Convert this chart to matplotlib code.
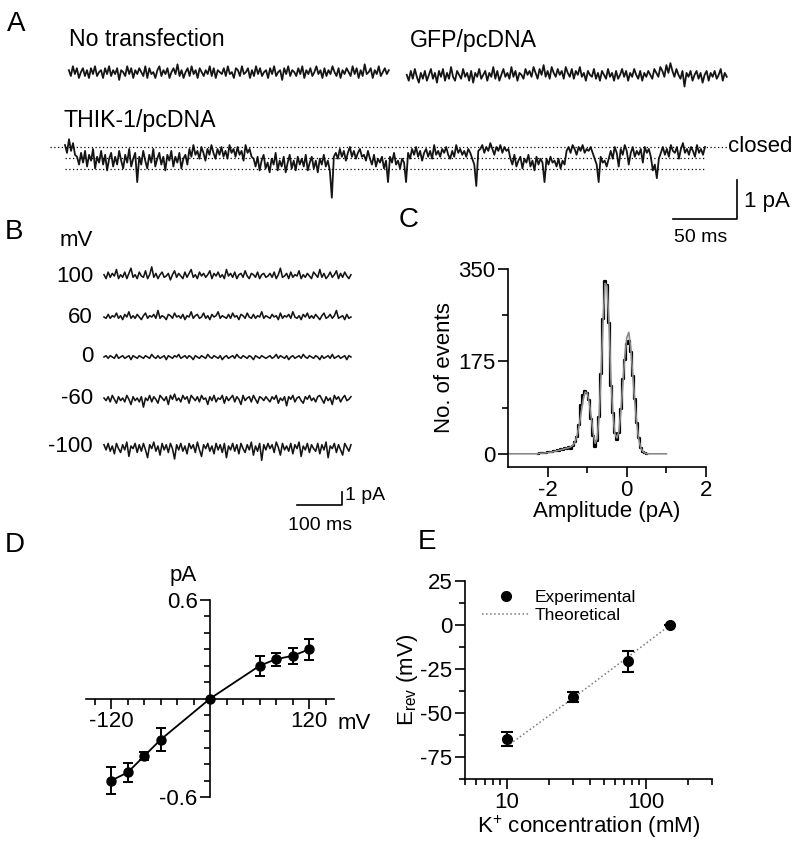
import numpy as np
import matplotlib
matplotlib.use("Agg")
import matplotlib.pyplot as plt
from matplotlib.ticker import FixedLocator, MultipleLocator, LogLocator, NullFormatter

plt.rcParams['font.family'] = ['Liberation Sans', 'DejaVu Sans']
plt.rcParams['axes.unicode_minus'] = False
plt.rcParams['mathtext.fontset'] = 'custom'
plt.rcParams['mathtext.rm'] = 'Liberation Sans'
plt.rcParams['mathtext.it'] = 'Liberation Sans:italic'

# ---------------- data ----------------
# A: single-channel recordings, values in units of 0.05 pA
a_unit = 0.05
no_transfection = [1, -2, 3, -1, 2, -3, 0, 2, -2, 1, -3, 2, -1, 3, -2, 0, 1, -3, 2, -1,
                   3, -2, 1, -1, 2, -4, 1, 0, -2, 3, -1, 2, -3, 1, -1, 2, 0, -2, 3, -3,
                   2, -1, 0, -3, 1, 3, -2, 1, -1, 2, -3, 0, 2, -1, 4, -2, 1, -3, 0, 2,
                   -2, 3, -1, 1, -3, 2, 0, -2, 1, -1, 3, -2, 2, -3, 1, 0, -1, 2, -2, 3,
                   -1, 0, -3, 2, 1, -2, 3, -1, 0, 2, -3, 1, -2, 3, -1, 2, -2, 0, 1, -3,
                   2, -1, 3, -2, 0, 1, -4, 2, -1, 3, -2, 1, 0, -2, 2, -1, 3, -3, 1, -1,
                   2, -2, 0, 3, -1, 1, -3, 2, -2, 1, -1, 3, 0, -2, 2, -3, 1, -1, 2, 0,
                   -2, 3, -1, 2, -3, 1, -2, 4, -1, 0, 2, -3, 1, -1, 3, -2, 0, 2, -1, 1]
gfp_pcdna = [0, -3, 2, -2, 3, -1, -4, 1, -2, 2, -3, 0, 3, -2, 1, -4, 2, -1, 3, -3,
             1, -2, 4, -1, -3, 2, 0, -2, 3, -1, 1, -3, 2, -4, 1, -1, 3, -2, 0, 2,
             -3, 1, -1, 4, -2, 2, -3, 0, 3, -1, 1, -2, 4, -1, 2, -3, 1, 0, -2, 3,
             0, 2, -1, 4, 1, -2, 3, 0, 5, -1, 2, -2, 4, 1, -1, 3, 0, 2, -2, 4,
             1, -1, 3, -2, 2, 0, 4, -1, 1, -3, 2, 0, -1, 3, -2, 1, -3, 2, 0, -2,
             3, -1, 1, -3, 2, -2, 0, 3, -1, 2, -3, 1, -1, 3, 0, -2, 2, -3, 1, -1,
             2, 0, -2, 3, 1, -1, 4, 2, -1, 5, 1, 6, 2, -1, 3, 0, -2, 2, -6, 1,
             -1, 2, -3, 0, 2, -2, 1, -4, 0, 2, -3, 1, -1, 2, -2, 0, 3, -3, 1, -1]
thik1_pcdna = [1, -3, 4, -2, 2, -4, -5, -9, -3, -8, -2, -10, -4, -7, -1, -11, -5, -8, -2, -9,
               -4, -12, -6, -3, -10, -5, -9, -2, -7, -11, -4, -8, -1, -10, -6, -3, -18, -5, -9, -2,
               -7, -11, -4, -8, -1, -10, -6, -3, -9, -5, -12, -4, -7, -2, -10, -5, -8, -3, -11, -6,
               -4, -9, -1, -5, 1, -4, -2, -6, 0, -3, -7, -1, -4, 1, -3, -6, -1, -4, 0, -5,
               -2, -6, 1, -3, -1, -5, 0, -4, -2, -7, 1, -3, -1, -5, -6, -10, -5, -12, -7, -4,
               -11, -8, -13, -6, -9, -3, -12, -7, -10, -5, -13, -8, -4, -11, -7, -12, -5, -9, -6, -10,
               -4, -12, -8, -5, -11, -7, -13, -6, -9, -4, -10, -7, -12, -26, -5, -3, -6, -1, -5, -2,
               -7, -3, 0, -5, -2, -6, -3, -1, -5, -4, -7, -2, -6, -9, -4, -10, -6, -8, -5, -11,
               -7, -18, -5, -8, -3, -9, -7, -11, -6, -8, -18, -3, -6, -1, -4, 0, -5, -2, -7, -3,
               -1, -5, -2, -6, 1, -4, -2, -5, -1, -3, 0, -4, -6, -2, -5, 1, -3, -1, -4, -2,
               -5, -1, -3, -6, -9, -20, -2, -1, 1, -3, 0, -2, 2, -1, -4, 0, -2, 1, -3, 0,
               -2, -1, -6, -9, -4, -10, -7, -5, -11, -6, -8, -4, -10, -7, -12, -5, -9, -6, -8, -18,
               -6, -9, -5, -8, -7, -10, -6, -11, -7, -9, -2, 0, -3, 1, -1, -4, 0, -2, 1, -3,
               -1, -2, 0, -3, -6, -9, -18, -5, -8, -7, -10, -6, -2, -6, 0, -3, -10, -1, -4, 1,
               -2, -9, -3, 0, -5, -2, -4, -1, -8, 0, -3, -1, -5, -12, -9, -16, -6, -3, 0, -4,
               -1, -5, 1, -2, -3, 0, -6, -1, 2, -3, -1, -4, 0, -2, -5, 1, -3, -1, -4, 0]
a_durations = [250, 250, 500]          # ms
thik_levels = [0, -0.29, -0.56]        # pA, closed and open levels

# B: recordings at different potentials, values in units of 0.1 pA
b_unit = 0.1
b_duration = 550                       # ms
b_mv = ['100', '60', '0', '-60', '-100']
b_100 = [1, -2, 3, -1, 2, 0, 5, -2, 1, -1, 3, -2, 2, 6, -1, 1, -2, 3, 0, -1,
         4, -2, 1, 7, -1, 2, -2, 1, 3, -1, 0, 2, -3, 1, 4, -1, 2, 0, -2, 3,
         -1, 2, 5, -1, 1, -2, 3, 0, 2, -1, 1, 4, -2, 2, 0, 3, -1, 1, -2, 5,
         0, 2, -1, 3, -2, 1, 2, -1, 4, 0, -2, 2, 1, -1, 3, -2, 1, 2, -1, 0,
         2, -1, 3, -2, 1, 6, -1, 0, 2, -2, 3, -1, 1, 0, 4, -2, 1, -1, 2, 0,
         -2, 3, 1, -1, 5, -1, 2, -2, 0, 3, -1, 1, 4, -2, 2, -1, 3, 0, -2, 1]
b_60 = [0, -1, 2, -1, 1, 0, 3, -1, 1, -2, 2, 0, 4, -1, 1, -1, 2, 0, -2, 1,
        3, -1, 1, 0, 2, -1, 5, -1, 1, 0, -2, 2, 1, -1, 3, 0, 1, -1, 2, -2,
        1, 0, 4, -1, 1, 2, -1, 0, 3, -1, 1, -2, 2, 0, 1, 4, -1, 1, 0, -1,
        2, -1, 3, 0, 1, -2, 2, 1, -1, 3, 0, -1, 2, -1, 1, 0, 4, -1, 1, 0,
        -1, 2, 0, 1, -2, 3, -1, 1, 0, 2, -1, 4, 0, -1, 1, -2, 2, 0, 3, -1,
        1, -1, 2, 0, -2, 1, 3, -1, 0, 2, -1, 1, 5, -1, 0, 1, -2, 2, -1, 0]
b_0 = [0, 1, -1, 1, 0, -1, 2, -1, 0, 1, -1, 0, 1, -2, 1, 0, -1, 1, 0, -1,
       1, 0, -1, 2, 0, -1, 1, -1, 0, 1, -2, 1, 0, -1, 1, 0, 2, -1, 0, 1,
       -1, 1, 0, -2, 1, 0, -1, 1, 0, -1, 2, 0, -1, 1, 0, -1, 1, -2, 0, 1,
       -1, 0, 1, -1, 2, 0, -1, 1, 0, -1, 1, 0, -2, 1, 0, -1, 1, 0, -1, 0,
       1, -1, 0, 2, -1, 1, 0, -1, 1, -2, 0, 1, -1, 0, 1, -1, 2, 0, -1, 1,
       0, -1, 1, 0, -2, 1, -1, 0, 1, -1, 2, -1, 0, 1, -1, 0, 1, -2, 1, 0]
b_m60 = [0, -2, 1, -3, 2, -1, -4, 1, -2, 0, -3, 2, -1, -5, 1, -2, 0, -3, 1, -7,
         0, -2, 2, -3, 1, -1, -4, 2, 0, -2, 1, -5, 2, -1, 3, -2, 0, -3, 2, -1,
         1, -4, 2, 0, -2, 1, -3, 2, -1, 0, -5, 1, -2, 2, -3, 0, -1, 2, -4, 1,
         -2, 0, 2, -3, 1, -1, -5, 2, -2, 0, 1, -3, 2, -1, -4, 1, 0, -2, 1, -1,
         -3, 1, -1, 2, -4, 0, -2, 1, -6, 1, -1, 2, -3, 0, 1, -2, -4, 1, -1, 2,
         -2, 0, -3, 1, 2, -1, -4, 1, -2, 0, -5, 2, -1, 1, -3, 0, 2, -2, -1, 1]
b_m100 = [1, -3, 2, -4, 0, -6, 2, -2, -5, 1, -3, 3, -8, 0, -2, 2, -5, 1, -4, 2,
          -3, -9, 1, -2, 3, -4, 0, -7, 2, -3, 1, -5, 2, -2, -10, 1, -3, 2, -4, 0,
          -6, 2, -2, 1, -5, 3, -3, -8, 1, -2, 2, -4, 0, -6, 2, -3, 1, -5, 2, -9,
          0, -3, 2, -4, 1, -6, 2, -2, -5, 1, -3, 3, -7, 0, -4, 2, -11, 1, -3, 2,
          -2, 1, -5, 3, -1, -7, 2, -3, 0, -4, 2, -6, 1, -2, 3, -8, 0, -3, 2, -5,
          1, -2, -4, 2, -6, 1, -3, 3, -9, 0, -2, 2, -5, 1, -3, -7, 2, -1, -4, 1]
b_traces = [b_100, b_60, b_0, b_m60, b_m100]

# C: amplitude histogram, bins of 0.05 pA from -3.0 to 1.0 pA
hist_start, hist_step = -3.0, 0.05
hist_counts = [0] * 16 + [1, 1, 2, 2, 3, 4, 4, 6, 5, 7, 6, 9, 8, 11, 9, 12, 10, 15, 22, 32,
                          55, 92, 112, 118, 116, 102, 66, 33, 12, 25, 70, 152, 255, 328, 320,
                          248, 128, 78, 40, 27, 40, 84, 141, 178, 208, 213, 192, 147, 103, 58,
                          30, 11, 4, 1] + [0] * 11
hist_fit = [0] * 16 + [1, 1, 1, 2, 2, 3, 3, 4, 5, 6, 7, 8, 9, 10, 11, 12, 14, 17, 24, 36,
                       55, 80, 103, 117, 115, 98, 70, 40, 20, 28, 70, 150, 250, 323, 318,
                       250, 140, 75, 38, 30, 42, 80, 132, 185, 220, 230, 200, 150, 100, 58,
                       28, 12, 5, 2] + [0] * 11

# D: I-V relationship
iv_mv = [-120, -100, -80, -60, 0, 60, 80, 100, 120]
iv_pa = [-0.50, -0.45, -0.35, -0.25, 0.0, 0.20, 0.24, 0.26, 0.30]
iv_err = [0.08, 0.06, 0.025, 0.07, 0.0, 0.06, 0.04, 0.05, 0.065]

# E: reversal potential vs K+ concentration
k_mm = [10, 30, 75, 150]
erev_mv = [-65, -41, -20.5, 0]
erev_err = [4, 3, 6, 0]
erev_theory = [-69, -41.5, -18, 0]

# ---------------- layout helpers ----------------
W, H = 800, 847
fig = plt.figure(figsize=(W / 100, H / 100), dpi=100)


def px_axes(l, t, r, b):
    return fig.add_axes([l / W, 1 - b / H, (r - l) / W, (b - t) / H])


def trace_axes(box, x0, y0, xs, ys):
    # xs: px per ms, ys: px per pA, (x0, y0) pixel of t=0, I=0
    l, t, r, b = box
    ax = px_axes(l, t, r, b)
    ax.set_xlim((l - x0) / xs, (r - x0) / xs)
    ax.set_ylim((y0 - b) / ys, (y0 - t) / ys)
    ax.axis('off')
    return ax


def ftext(x, y, s, size=16, ha='left', va='center', **kw):
    fig.text(x / W, 1 - y / H, s, fontsize=size, ha=ha, va=va, **kw)


tcol = '#151515'

# ---------------- panel A ----------------
axA = trace_axes((0, 0, 800, 255), 65, 147, 1.28, 39)
a_traces = [no_transfection, gfp_pcdna, thik1_pcdna]
a_start = [3, 267, 0]            # ms offsets on the panel
a_offset = [1.92, 1.85, 0.0]     # pA offsets on the panel
for tr, dur, t0, y0 in zip(a_traces, a_durations, a_start, a_offset):
    t = t0 + np.linspace(0, dur, len(tr))
    axA.plot(t, y0 + np.array(tr) * a_unit, color=tcol, lw=1.3)
axA.plot([-12, 517], [thik_levels[0]] * 2, color='k', lw=0.9, ls=(0, (1, 2)))
for lev in thik_levels[1:]:
    axA.plot([0, 500], [lev, lev], color='k', lw=0.9, ls=(0, (1, 2)))
axA.plot([475, 525, 525], [-1.85, -1.85, -0.85], color='k', lw=1.2)

ftext(7, 24, 'A', size=20)
ftext(69, 40, 'No transfection', size=16.7)
ftext(410, 40, 'GFP/pcDNA', size=16.7)
ftext(64, 121, 'THIK-1/pcDNA', size=16.7)
ftext(728, 147, 'closed', size=16)
ftext(744, 202, '1 pA', size=16)
ftext(701, 237, '50 ms', size=14, ha='center')

# ---------------- panel B ----------------
axB = trace_axes((0, 255, 400, 540), 104, 357, 0.449, 13)
b_rows = [276, 317, 357, 398, 446]
for lab, tr, yp in zip(b_mv, b_traces, b_rows):
    t = np.linspace(0, b_duration, len(tr))
    axB.plot(t, (357 - yp) / 13 + np.array(tr) * b_unit, color=tcol, lw=1.15)
    ftext(93, yp, lab, size=16, ha='right')
axB.plot([430, 530, 530], [-11.4, -11.4, -10.4], color='k', lw=1.2)
ftext(5, 232, 'B', size=20)
ftext(60, 241, 'mV', size=16)
ftext(345, 496, '1 pA', size=14)
ftext(320, 525, '100 ms', size=14, ha='center')

# ---------------- panel C ----------------
axC = px_axes(508, 269, 706, 467)
bins = hist_start + hist_step * np.arange(len(hist_counts))
nz = np.nonzero(hist_counts)[0]
sl = slice(nz[0] - 1, nz[-1] + 2)
axC.step(bins[sl], np.array(hist_counts)[sl], where='mid', color='k', lw=1.6)
axC.plot(bins, hist_fit, color='#8a8a8a', lw=1.2)
axC.set_xlim(-3, 2)
axC.set_ylim(-25, 350)
axC.set_yticks([0, 175, 350])
axC.yaxis.set_minor_locator(FixedLocator([87.5, 262.5]))
axC.set_xticks([-2, 0, 2])
axC.xaxis.set_minor_locator(FixedLocator([-1, 1]))
axC.set_ylabel('No. of events', fontsize=16, labelpad=2)
axC.set_xlabel('Amplitude (pA)', fontsize=16, labelpad=0)
ftext(399, 220, 'C', size=20)

# ---------------- panel D ----------------
axD = px_axes(86.5, 600, 334, 797)
axD.errorbar(iv_mv, iv_pa, yerr=iv_err, fmt='-o', color='k', ms=6.5, lw=1.3,
             elinewidth=1.4, capsize=3.8, capthick=1.4, zorder=5, clip_on=False)
axD.set_xlim(-150, 150)
axD.set_ylim(-0.6, 0.6)
axD.spines['left'].set_position(('data', 0))
axD.spines['bottom'].set_position(('data', 0))
axD.set_xticks([-120, 120])
axD.xaxis.set_minor_locator(FixedLocator([v for v in range(-140, 160, 20) if v != 0]))
axD.set_yticks([-0.6, 0.6])
axD.set_yticklabels(['-0.6', '0.6'])
axD.yaxis.set_minor_locator(FixedLocator([v / 10 for v in range(-5, 6) if v != 0]))
ftext(183, 575, 'pA', size=16, ha='center')
ftext(338, 723, 'mV', size=16)
ftext(5, 545, 'D', size=20)

# ---------------- panel E ----------------
axE = px_axes(465, 581, 712, 779)
axE.plot(k_mm, erev_theory, ls=':', color='#7a7a7a', lw=1.1, label='Theoretical')
axE.errorbar(k_mm, erev_mv, yerr=erev_err, fmt='none', ecolor='k',
             elinewidth=1.5, capsize=4, capthick=1.5)
axE.plot(k_mm, erev_mv, 'o', color='k', ms=7, label='Experimental', zorder=5)
axE.set_xscale('log')
axE.set_xlim(5, 300)
axE.set_ylim(-87.5, 25)
axE.set_xticks([10, 100])
axE.set_xticklabels(['10', '100'])
axE.xaxis.set_minor_locator(LogLocator(base=10, subs=range(2, 10)))
axE.xaxis.set_minor_formatter(NullFormatter())
axE.set_yticks([-75, -50, -25, 0, 25])
axE.yaxis.set_minor_locator(MultipleLocator(12.5))
axE.set_ylabel(r'E$_{\mathrm{rev}}$ (mV)', fontsize=16, labelpad=0)
axE.set_xlabel(r'K$^{+}$ concentration (mM)', fontsize=16, labelpad=1)
h, l = axE.get_legend_handles_labels()
axE.legend(h[::-1], l[::-1], loc='upper left', bbox_to_anchor=(0.07, 0.955),
           frameon=False, fontsize=12.5, handlelength=2.7, handletextpad=0.3,
           labelspacing=0.15, borderpad=0, borderaxespad=0)
ftext(418, 542, 'E', size=20)

for ax in (axC, axD, axE):
    for s in ('top', 'right'):
        ax.spines[s].set_visible(False)
    for s in ('left', 'bottom'):
        ax.spines[s].set_linewidth(1.2)
    ax.tick_params(which='major', direction='out', length=7, width=1.2, labelsize=16, pad=2)
    ax.tick_params(which='minor', direction='out', length=4, width=1.2)

fig.savefig('out.png', dpi=100)
